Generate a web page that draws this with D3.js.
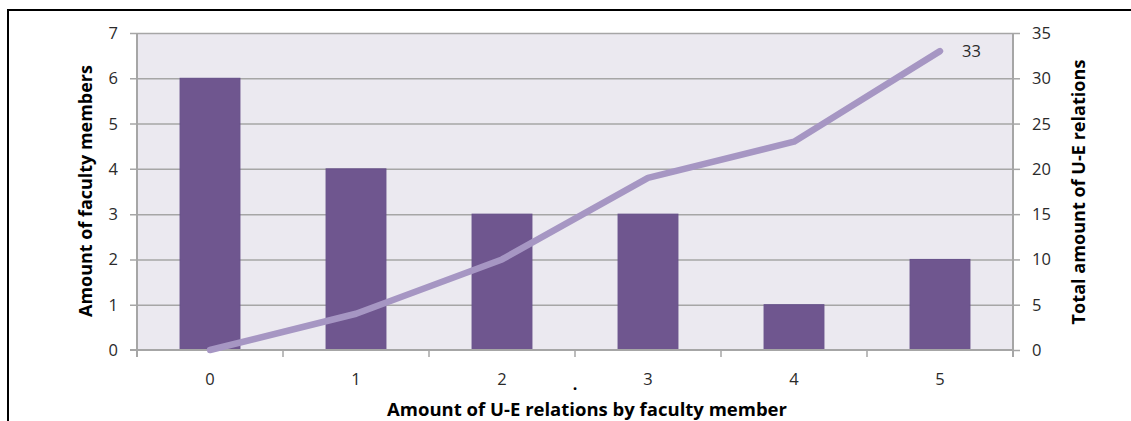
<!DOCTYPE html>
<html><head><meta charset="utf-8">
<script src="https://cdn.jsdelivr.net/npm/d3@7"></script>
<style>body{margin:0;background:#fff}svg{display:block}</style>
</head><body>
<svg id="c" width="1131" height="421"></svg>
<script>
const categories = ["0","1","2","3","4","5"];
const facultyMembers = [6,4,3,3,1,2];
const totalRelations = [0,4,10,19,23,33];
const leftTicks = [0,1,2,3,4,5,6,7];
const rightTicks = [0,5,10,15,20,25,30,35];
const xTitle = "Amount of U-E relations by faculty member";
const yLeftTitle = "Amount of faculty members";
const yRightTitle = "Total amount of U-E relations";
const endLabel = "33";

const svg = d3.select("#c");
const font = "'Open Sans', 'Noto Sans', sans-serif";
const tickSize = 16.5, tickColor = "#2a2a2a";
const m = {l:137, r:1013, t:33, b:350};

svg.append("rect").attr("x",8).attr("y",10).attr("width",1140).attr("height",430)
  .attr("fill","none").attr("stroke","#000").attr("stroke-width",2);

const x = d3.scaleBand().domain(categories).range([m.l,m.r]).paddingInner(0.59).paddingOuter(0.295);
const xb = d3.scaleBand().domain(categories).range([m.l,m.r]);
const yL = d3.scaleLinear().domain([0,7]).range([m.b,m.t]);
const yR = d3.scaleLinear().domain([0,35]).range([m.b,m.t]);

svg.append("rect").attr("x",m.l).attr("y",m.t).attr("width",m.r-m.l).attr("height",m.b-m.t).attr("fill","#EBE9F0");

svg.append("g").selectAll("line").data(leftTicks.slice(1)).join("line")
  .attr("x1",m.l-7).attr("x2",m.r).attr("y1",d=>yL(d)+0.5).attr("y2",d=>yL(d)+0.5)
  .attr("stroke","#A6A6A6").attr("stroke-width",1.5);
svg.append("g").selectAll("line").data(rightTicks).join("line")
  .attr("x1",m.r).attr("x2",m.r+7).attr("y1",d=>yR(d)+0.5).attr("y2",d=>yR(d)+0.5)
  .attr("stroke","#A6A6A6").attr("stroke-width",1.5);

svg.append("g").selectAll("rect").data(facultyMembers).join("rect")
  .attr("x",(d,i)=>x(categories[i])).attr("width",x.bandwidth())
  .attr("y",d=>yL(d)).attr("height",d=>yL(0)-yL(d))
  .attr("fill","#6F568F").attr("stroke","#66508A").attr("stroke-width",1);

svg.append("line").attr("x1",m.l-7).attr("x2",m.r).attr("y1",m.b).attr("y2",m.b).attr("stroke","#A6A6A6").attr("stroke-width",2);
svg.append("line").attr("x1",m.l).attr("x2",m.l).attr("y1",m.t).attr("y2",m.b+7).attr("stroke","#A6A6A6").attr("stroke-width",2);
svg.append("line").attr("x1",m.r).attr("x2",m.r).attr("y1",m.t).attr("y2",m.b+7).attr("stroke","#A6A6A6").attr("stroke-width",2);
const xt = d3.range(categories.length+1).map(i=>m.l+i*xb.step());
svg.append("g").selectAll("line").data(xt.slice(1,-1)).join("line")
  .attr("x1",d=>d).attr("x2",d=>d).attr("y1",m.b).attr("y2",m.b+7)
  .attr("stroke","#A6A6A6").attr("stroke-width",1.5);

const line = d3.line().x((d,i)=>xb(categories[i])+xb.bandwidth()/2).y(d=>yR(d));
svg.append("path").attr("d",line(totalRelations)).attr("fill","none")
  .attr("stroke","#A696C3").attr("stroke-width",6.5).attr("stroke-linecap","round").attr("stroke-linejoin","round");

svg.append("text").attr("x",xb(categories[5])+xb.bandwidth()/2+22).attr("y",yR(33)+6)
  .attr("font-family",font).attr("font-size",tickSize).attr("fill",tickColor).text(endLabel);

svg.append("g").selectAll("text").data(leftTicks).join("text")
  .attr("x",118).attr("y",d=>yL(d)+6).attr("text-anchor","end")
  .attr("font-family",font).attr("font-size",tickSize).attr("fill",tickColor).text(d=>d);
svg.append("g").selectAll("text").data(rightTicks).join("text")
  .attr("x",1032).attr("y",d=>yR(d)+6).attr("text-anchor","start")
  .attr("font-family",font).attr("font-size",tickSize).attr("fill",tickColor).text(d=>d);
svg.append("g").selectAll("text").data(categories).join("text")
  .attr("x",d=>xb(d)+xb.bandwidth()/2).attr("y",385).attr("text-anchor","middle")
  .attr("font-family",font).attr("font-size",tickSize).attr("fill",tickColor).text(d=>d);

svg.append("text").attr("x",575).attr("y",390).attr("text-anchor","middle")
  .attr("font-family",font).attr("font-size",16).attr("font-weight","bold").attr("fill","#000").text(".");

function title(txt, transform, target){
  const t = svg.append("text").attr("transform",transform).attr("text-anchor","middle")
    .attr("font-family",font).attr("font-size",15).attr("font-weight","bold").attr("fill","#000").text(txt);
  const w = t.node().getComputedTextLength();
  t.attr("font-size", Math.min(18.5, 15*target/w));
  return t;
}
title(xTitle, "translate(587,416)", 417);
title(yLeftTitle, "translate(92,191) rotate(-90)", 252);
title(yRightTitle, "translate(1085,192) rotate(-90)", 265);
</script>
</body></html>
